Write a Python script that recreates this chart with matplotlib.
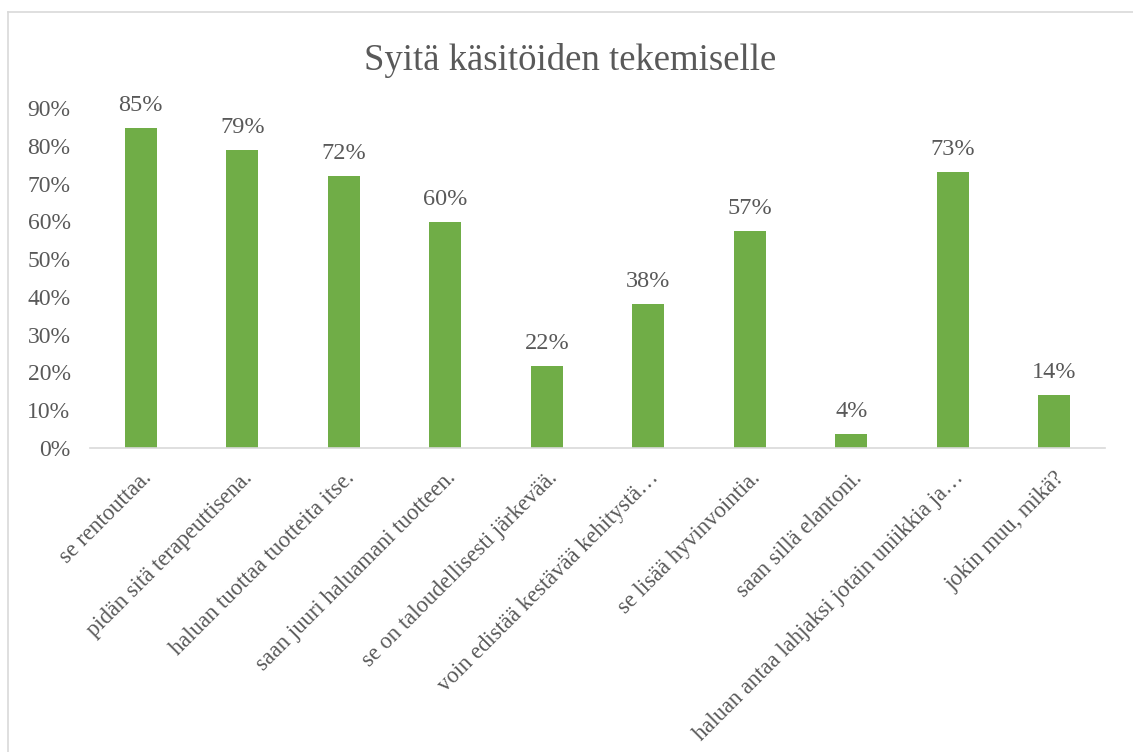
import matplotlib.pyplot as plt
from matplotlib.lines import Line2D

plt.rcParams['font.family'] = ['Liberation Serif', 'DejaVu Serif']

categories = [
    "se rentouttaa.",
    "pidän sitä terapeuttisena.",
    "haluan tuottaa tuotteita itse.",
    "saan juuri haluamani tuotteen.",
    "se on taloudellisesti järkevää.",
    "voin edistää kestävää kehitystä…",
    "se lisää hyvinvointia.",
    "saan sillä elantoni.",
    "haluan antaa lahjaksi jotain uniikkia ja…",
    "jokin muu, mikä?",
]
values = [0.847, 0.788, 0.72, 0.598, 0.217, 0.381, 0.574, 0.037, 0.730, 0.140]
yticks = [0, 0.1, 0.2, 0.3, 0.4, 0.5, 0.6, 0.7, 0.8, 0.9]

grey = '#595959'
green = '#70AD47'

fig = plt.figure(figsize=(11.33, 7.52), dpi=100)
ax = fig.add_axes([0.0794, 0.4043, 0.896, 0.4521])

x = range(len(categories))
bars = ax.bar(x, values, width=0.315, color=green)

for b, v in zip(bars, values):
    ax.annotate(f"{round(v * 100):.0f}%", (b.get_x() + b.get_width() / 2, v),
                xytext=(0, 8.5), textcoords='offset points',
                ha='center', va='bottom', fontsize=17.5, color=grey)

ax.set_xlim(-0.5, len(categories) - 0.5)
ax.set_ylim(0, 0.9)
ax.set_yticks(yticks)
ax.set_yticklabels([f"{round(t * 100)}%" for t in yticks], fontsize=17, color=grey)
ax.set_xticks(list(x))
ax.set_xticklabels(categories, rotation=45, ha='right', rotation_mode='anchor',
                   fontsize=16.3, color=grey)
ax.tick_params(axis='both', length=0)
ax.tick_params(axis='y', pad=14)
ax.tick_params(axis='x', pad=14)

for s in ['top', 'right', 'left']:
    ax.spines[s].set_visible(False)
ax.spines['bottom'].set_color('#d9d9d9')
ax.spines['bottom'].set_linewidth(1.2)

fig.text(0.503, 0.92, "Syitä käsitöiden tekemiselle", ha='center', va='center',
         fontsize=26.5, color=grey)

# chart frame (cut off on the right and bottom)
fig.add_artist(Line2D([8 / 1133, 1], [1 - 12 / 752] * 2, color='#d9d9d9', lw=1.2))
fig.add_artist(Line2D([8 / 1133] * 2, [0, 1 - 12 / 752], color='#d9d9d9', lw=1.2))

fig.savefig('out.png', dpi=100)
